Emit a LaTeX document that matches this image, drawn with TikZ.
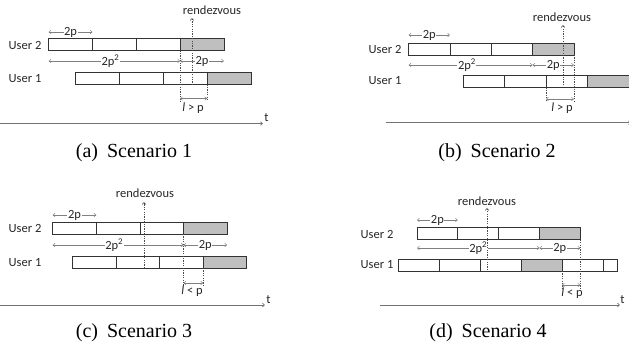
\documentclass[tikz,border=0pt]{standalone}
\usepackage{fontspec}
\setmainfont{Liberation Serif}
\newfontfamily\lblfont{Carlito}
\usetikzlibrary{arrows.meta}
\tikzset{
 barline/.style={draw=black!80, line width=0.7pt},
 barfill/.style={fill=black!25},
 dimarrow/.style={draw=black!50, line width=0.5pt, {Straight Barb[length=2pt,width=3.5pt]}-{Straight Barb[length=2pt,width=3.5pt]}},
 dimlabel/.style={font=\lblfont\fontsize{12.5}{13}\selectfont, text=black!85, fill=white, inner sep=0.6pt},
 userlabel/.style={font=\lblfont\fontsize{12.5}{13}\selectfont, text=black!85, inner sep=0pt},
 guide/.style={draw=black!70, line width=0.6pt, dash pattern=on 1.2pt off 1.2pt},
 rdv/.style={draw=black!70, line width=0.6pt, dash pattern=on 1.2pt off 1.2pt, -{Straight Barb[length=2pt,width=3.5pt]}},
 axis/.style={draw=black!55, line width=0.7pt, -{Straight Barb[length=2pt,width=3.5pt]}},
 caption/.style={font=\fontsize{20}{22}\selectfont, inner sep=0pt}
}
% name, x0, ytop, segment width, number of segments, grey segment
\newcommand\rzbar[6]{%
 \coordinate (#1-t0) at (#2,#3);
 \coordinate (#1-b0) at (#2,#3+12);
 \foreach \i in {1,...,#5}{%
  \pgfmathsetmacro\rzxa{#2+(\i-1)*#4}%
  \pgfmathsetmacro\rzxb{#2+\i*#4}%
  \ifnum\i=#6\relax \fill[barfill] (\rzxa,#3) rectangle (\rzxb,#3+12);\fi
  \draw[barline] (\rzxa,#3) rectangle (\rzxb,#3+12);
  \coordinate (#1-t\i) at (\rzxb,#3);
  \coordinate (#1-b\i) at (\rzxb,#3+12);
 }%
}
\begin{document}
\begin{tikzpicture}[x=1pt,y=-1pt]
\useasboundingbox (0,0) rectangle (629,354);
\clip (0,0) rectangle (629,354);

% ================= (a) =================
\coordinate (a-py) at (0,32);
\coordinate (a-qy) at (0,61);
\coordinate (a-gy) at (0,101);
\coordinate (a-ly) at (0,98.5);
\coordinate (a2-s) at (48.7,38.5);
\coordinate (a2-e) at (92.5,38.5);
\coordinate (a2-m) at (180.1,38.5);
\coordinate (a2-f) at (223.9,38.5);
\draw[dimarrow] (a2-s |- a-py) -- node[dimlabel] (a-p) {2p} (a2-e |- a-py);
\draw[dimarrow] (a2-s |- a-qy) -- node[dimlabel,pos=0.47] (a-q) {2p\textsuperscript{2}} (a2-m |- a-qy);
\draw[dimarrow] (a2-m |- a-qy) -- node[dimlabel] (a-q2) {2p} (a2-f |- a-qy);
\rzbar{a2}{48.7}{38.5}{43.8}{4}{4}
\rzbar{a1}{75.7}{72.5}{43.8}{4}{4}
\node[userlabel] (a-u2) at (25,45) {User 2};
\node[userlabel] (a-u1) at (25,79) {User 1};
\draw[guide] (a2-b3) -- (a2-b3 |- a-gy);
\draw[guide] (a1-b3) -- (a1-b3 |- a-gy);
\draw[dimarrow] (a2-b3 |- a-ly) -- (a1-b3 |- a-ly);
\node[userlabel] (a-l) at (193,108.5) {\textit{l} > p};
\node[userlabel] (a-r) at (212,10) {rendezvous};
\coordinate (a-rb) at (192,85);
\coordinate (a-rt) at (192,18);
\draw[rdv] (a-rb) -- (a-rt);
\coordinate (a-x0) at (0,123.5);
\coordinate (a-x1) at (263,123.5);
\draw[axis] (a-x0) -- (a-x1);
\node[userlabel] (a-t) at (266.5,118) {t};
\node[caption] (a-cap) at (134,153) {(a)\hspace{0.45em}Scenario 1};

% ================= (b) =================
\coordinate (b-py) at (0,35);
\coordinate (b-qy) at (0,65);
\coordinate (b-gy) at (0,101);
\coordinate (b-ly) at (0,99);
\coordinate (b2-s) at (408.7,43);
\coordinate (b2-e) at (450,43);
\coordinate (b2-m) at (532.6,43);
\coordinate (b2-f) at (573.9,43);
\draw[dimarrow] (b2-s |- b-py) -- node[dimlabel] (b-p) {2p} (b2-e |- b-py);
\draw[dimarrow] (b2-s |- b-qy) -- node[dimlabel,pos=0.47] (b-q) {2p\textsuperscript{2}} (b2-m |- b-qy);
\draw[dimarrow] (b2-m |- b-qy) -- node[dimlabel] (b-q2) {2p} (b2-f |- b-qy);
\rzbar{b2}{408.7}{43}{41.3}{4}{4}
\rzbar{b1}{463}{75.5}{41.5}{4}{4}
\node[userlabel] (b-u2) at (385,49) {User 2};
\node[userlabel] (b-u1) at (385,81) {User 1};
\draw[guide] (b2-b4) -- (b2-b4 |- b-gy);
\draw[guide] (b1-b2) -- (b1-b2 |- b-gy);
\draw[dimarrow] (b1-b2 |- b-ly) -- (b2-b4 |- b-ly);
\node[userlabel] (b-l) at (562,108.5) {\textit{l} > p};
\node[userlabel] (b-r) at (562,17) {rendezvous};
\coordinate (b-rb) at (563,85);
\coordinate (b-rt) at (563,25);
\draw[rdv] (b-rb) -- (b-rt);
\coordinate (b-x0) at (386,122.7);
\coordinate (b-x1) at (631,122.7);
\draw[axis] (b-x0) -- (b-x1);
\node[userlabel] (b-t) at (633,117) {t};
\node[caption] (b-cap) at (497,153) {(b)\hspace{0.45em}Scenario 2};

% ================= (c) =================
\coordinate (c-py) at (0,215);
\coordinate (c-qy) at (0,245);
\coordinate (c-gy) at (0,286);
\coordinate (c-ly) at (0,283);
\coordinate (c2-s) at (52.7,222);
\coordinate (c2-e) at (96.3,222);
\coordinate (c2-m) at (183.5,222);
\coordinate (c2-f) at (227.1,222);
\draw[dimarrow] (c2-s |- c-py) -- node[dimlabel] (c-p) {2p} (c2-e |- c-py);
\draw[dimarrow] (c2-s |- c-qy) -- node[dimlabel,pos=0.47] (c-q) {2p\textsuperscript{2}} (c2-m |- c-qy);
\draw[dimarrow] (c2-m |- c-qy) -- node[dimlabel] (c-q2) {2p} (c2-f |- c-qy);
\rzbar{c2}{52.7}{222}{43.6}{4}{4}
\rzbar{c1}{72.3}{256}{43.6}{4}{4}
\node[userlabel] (c-u2) at (25,228) {User 2};
\node[userlabel] (c-u1) at (25,263) {User 1};
\draw[guide] (c2-b3) -- (c2-b3 |- c-gy);
\draw[guide] (c1-b3) -- (c1-b3 |- c-gy);
\draw[dimarrow] (c2-b3 |- c-ly) -- (c1-b3 |- c-ly);
\node[userlabel] (c-l) at (192,291) {\textit{l} < p};
\node[userlabel] (c-r) at (145,193) {rendezvous};
\coordinate (c-rb) at (144,268);
\coordinate (c-rt) at (144,202);
\draw[rdv] (c-rb) -- (c-rt);
\coordinate (c-x0) at (0,305);
\coordinate (c-x1) at (265,305);
\draw[axis] (c-x0) -- (c-x1);
\node[userlabel] (c-t) at (268.5,299.5) {t};
\node[caption] (c-cap) at (134,333) {(c)\hspace{0.45em}Scenario 3};

% ================= (d) =================
\coordinate (d-py) at (0,220);
\coordinate (d-qy) at (0,248);
\coordinate (d-gy) at (0,290);
\coordinate (d-ly) at (0,285);
\coordinate (d2-s) at (417,227.8);
\coordinate (d2-e) at (457.8,227.8);
\coordinate (d2-m) at (539.4,227.8);
\coordinate (d2-f) at (580.2,227.8);
\draw[dimarrow] (d2-s |- d-py) -- node[dimlabel] (d-p) {2p} (d2-e |- d-py);
\draw[dimarrow] (d2-s |- d-qy) -- node[dimlabel,pos=0.5] (d-q) {2p\textsuperscript{2}} (d2-m |- d-qy);
\draw[dimarrow] (d2-m |- d-qy) -- node[dimlabel] (d-q2) {2p} (d2-f |- d-qy);
\rzbar{d2}{417}{227.8}{40.8}{4}{4}
\rzbar{d1}{398}{259}{41}{5}{4}
\coordinate (d1-end) at (617,271);
\draw[barline] (d1-t5) rectangle (d1-end);
\node[userlabel] (d-u2) at (377,234) {User 2};
\node[userlabel] (d-u1) at (377,265) {User 1};
\draw[guide] (d2-b4) -- (d2-b4 |- d-gy);
\draw[guide] (d1-b4) -- (d1-b4 |- d-gy);
\draw[dimarrow] (d1-b4 |- d-ly) -- (d2-b4 |- d-ly);
\node[userlabel] (d-l) at (572,293) {\textit{l} < p};
\node[userlabel] (d-r) at (487,201) {rendezvous};
\coordinate (d-rb) at (487,270);
\coordinate (d-rt) at (487,208);
\draw[rdv] (d-rb) -- (d-rt);
\coordinate (d-x0) at (380,305);
\coordinate (d-x1) at (620,305);
\draw[axis] (d-x0) -- (d-x1);
\node[userlabel] (d-t) at (622.5,299.5) {t};
\node[caption] (d-cap) at (488,333) {(d)\hspace{0.45em}Scenario 4};
\end{tikzpicture}
\end{document}
